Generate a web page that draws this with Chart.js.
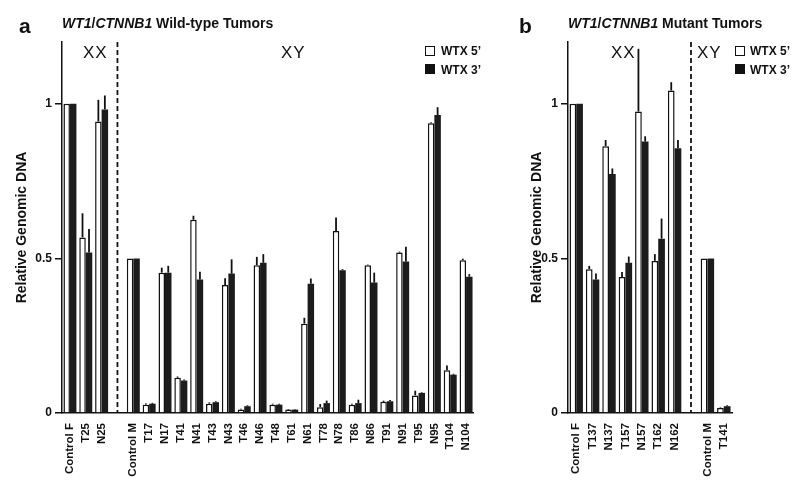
<!DOCTYPE html>
<html>
<head>
<meta charset="utf-8">
<script src="https://cdn.jsdelivr.net/npm/chart.js@4.4.1/dist/chart.umd.min.js"></script>
<style>
    body { margin: 0; background: #fff; font-family: "Liberation Sans", Arial, sans-serif; color: #111; }
    #wrap { position: relative; width: 800px; height: 487px; overflow: hidden; }
    .box { position: absolute; top: 0; height: 487px; }
    .txt { position: absolute; white-space: nowrap; line-height: 1; }
    .panel { font-size: 21px; font-weight: bold; }
    .title { font-size: 14px; font-weight: bold; }
    .sex { font-size: 17px; letter-spacing: 1px; }
    .leg { font-size: 12px; font-weight: bold; }
    .sq { position: absolute; box-sizing: border-box; width: 10px; height: 10px; border: 1.5px solid #111; }
</style>
</head>
<body>
<div id="wrap">
    <div class="box" style="left:0; width:490px;"><canvas id="chartA"></canvas></div>
    <div class="box" style="left:510px; width:290px;"><canvas id="chartB"></canvas></div>

    <div class="txt panel" style="left:19px; top:15px;">a</div>
    <div class="txt title" style="left:62px; top:16px;"><i>WT1</i>/<i>CTNNB1</i> Wild-type Tumors</div>
    <div class="txt sex" style="left:83px; top:44px;">XX</div>
    <div class="txt sex" style="left:281px; top:44px;">XY</div>
    <div class="sq" style="left:425px; top:46px; background:#fff;"></div>
    <div class="txt leg" style="left:441px; top:45px;">WTX 5’</div>
    <div class="sq" style="left:425px; top:64px; background:#111;"></div>
    <div class="txt leg" style="left:441px; top:64px;">WTX 3’</div>

    <div class="txt panel" style="left:519px; top:15px;">b</div>
    <div class="txt title" style="left:568px; top:16px;"><i>WT1</i>/<i>CTNNB1</i> Mutant Tumors</div>
    <div class="txt sex" style="left:611px; top:44px;">XX</div>
    <div class="txt sex" style="left:697px; top:44px;">XY</div>
    <div class="sq" style="left:735px; top:46px; background:#fff;"></div>
    <div class="txt leg" style="left:750px; top:45px;">WTX 5’</div>
    <div class="sq" style="left:735px; top:64px; background:#111;"></div>
    <div class="txt leg" style="left:750px; top:64px;">WTX 3’</div>
</div>
<script>
// ---- panel a : wild-type tumors ----
const labelsA = ["Control F", "T25", "N25", "", "Control M", "T17", "N17", "T41", "N41", "T43", "N43",
    "T46", "N46", "T48", "T61", "N61", "T78", "N78", "T86", "N86", "T91", "N91", "T95", "N95", "T104", "N104"];
const wtx5A = [1.0, 0.568, 0.943, null, 0.5, 0.027, 0.454, 0.114, 0.625, 0.030, 0.414, 0.011, 0.478,
    0.027, 0.011, 0.289, 0.019, 0.589, 0.027, 0.478, 0.036, 0.519, 0.057, 0.937, 0.138, 0.494];
const wtx3A = [1.0, 0.519, 0.982, null, 0.5, 0.030, 0.454, 0.105, 0.432, 0.035, 0.451, 0.022, 0.486,
    0.027, 0.011, 0.418, 0.032, 0.462, 0.032, 0.422, 0.038, 0.490, 0.065, 0.964, 0.124, 0.441];
// upper end of the error bars
const err5A = [null, 0.646, 1.013, null, null, 0.031, 0.470, 0.118, 0.638, 0.034, 0.436, 0.014, 0.505,
    0.030, 0.013, 0.308, 0.029, 0.632, 0.030, 0.480, 0.040, 0.522, 0.072, 0.940, 0.154, 0.499];
const err3A = [null, 0.595, 1.027, null, null, 0.033, 0.476, 0.108, 0.457, 0.038, 0.497, 0.025, 0.514,
    0.030, 0.013, 0.435, 0.040, 0.465, 0.043, 0.454, 0.042, 0.538, 0.067, 0.989, 0.127, 0.449];

// ---- panel b : mutant tumors ----
const labelsB = ["Control F", "T137", "N137", "T157", "N157", "T162", "N162", "", "Control M", "T141"];
const wtx5B = [1.0, 0.465, 0.863, 0.440, 0.975, 0.492, 1.043, null, 0.5, 0.016];
const wtx3B = [1.0, 0.432, 0.773, 0.486, 0.878, 0.564, 0.856, null, 0.5, 0.022];
const err5B = [null, 0.476, 0.883, 0.456, 1.178, 0.514, 1.070, null, null, 0.018];
const err3B = [null, 0.451, 0.791, 0.506, 0.895, 0.629, 0.883, null, null, 0.025];

const yTicks = [0, 0.5, 1];
const INK = "#111";

// ================= PLUGINS =================

const errorBars = {
    id: "errorBars",
    afterDatasetsDraw(chart) {
        const ctx = chart.ctx;
        const y = chart.scales.y;
        ctx.save();
        ctx.strokeStyle = INK;
        ctx.lineWidth = 1.8;
        chart.data.datasets.forEach((ds, i) => {
            const meta = chart.getDatasetMeta(i);
            meta.data.forEach((bar, j) => {
                const e = ds.err[j];
                if (e == null || ds.data[j] == null) return;
                ctx.beginPath();
                ctx.moveTo(bar.x, bar.y);
                ctx.lineTo(bar.x, y.getPixelForValue(e));
                ctx.stroke();
            });
        });
        ctx.restore();
    }
};

const divider = {
    id: "divider",
    afterDraw(chart, args, opts) {
        const ctx = chart.ctx;
        const x = chart.scales.x.getPixelForValue(opts.index);
        const area = chart.chartArea;
        ctx.save();
        ctx.strokeStyle = INK;
        ctx.lineWidth = 1.8;
        ctx.setLineDash([5, 3]);
        ctx.beginPath();
        ctx.moveTo(x, area.top);
        ctx.lineTo(x, area.bottom);
        ctx.stroke();
        ctx.restore();
    }
};

// ================= CHART FACTORY =================

function makeChart(id, labels, w5, w3, e5, e3, cfg) {
    return new Chart(document.getElementById(id), {
        type: "bar",
        data: {
            labels: labels,
            datasets: [
                { label: "WTX 5’", data: w5, err: e5, backgroundColor: "#fff", borderColor: INK, borderWidth: 1.5 },
                { label: "WTX 3’", data: w3, err: e3, backgroundColor: "#1c1c1c", borderColor: INK, borderWidth: 0 }
            ]
        },
        options: {
            responsive: true,
            maintainAspectRatio: false,
            animation: false,
            layout: { padding: { top: 42, right: cfg.padRight, left: 0, bottom: 0 } },
            datasets: { bar: { categoryPercentage: 0.82, barPercentage: 1 } },
            plugins: {
                legend: { display: false },
                tooltip: { enabled: false },
                divider: { index: cfg.gap }
            },
            scales: {
                x: {
                    afterFit: s => { s.height = 74; },
                    grid: { display: false, drawTicks: false },
                    border: { color: INK, width: 1.5 },
                    ticks: {
                        autoSkip: false, maxRotation: 90, minRotation: 90, padding: 10,
                        color: INK, font: { family: "Liberation Sans", size: 11.5, weight: "bold" }
                    }
                },
                y: {
                    min: 0, max: 1.2,
                    afterFit: s => { s.width = cfg.yWidth; },
                    afterBuildTicks: s => { s.ticks = yTicks.map(v => ({ value: v })); },
                    grid: { drawOnChartArea: false, drawTicks: true, tickLength: 7, color: INK, lineWidth: 1.5 },
                    border: { color: INK, width: 1.5 },
                    ticks: {
                        padding: 3, color: INK, font: { family: "Liberation Sans", size: 12, weight: "bold" },
                        callback: v => String(v)
                    },
                    title: {
                        display: true, text: "Relative Genomic DNA", color: INK,
                        font: { family: "Liberation Sans", size: 14, weight: "bold" },
                        padding: { top: cfg.titlePad, bottom: 0 }
                    }
                }
            }
        },
        plugins: [errorBars, divider]
    });
}

makeChart("chartA", labelsA, wtx5A, wtx3A, err5A, err3A, { padRight: 8, yWidth: 62, gap: 3, titlePad: 13.5 });
makeChart("chartB", labelsB, wtx5B, wtx3B, err5B, err3B, { padRight: 68, yWidth: 58, gap: 7, titlePad: 18.5 });
</script>
</body>
</html>
